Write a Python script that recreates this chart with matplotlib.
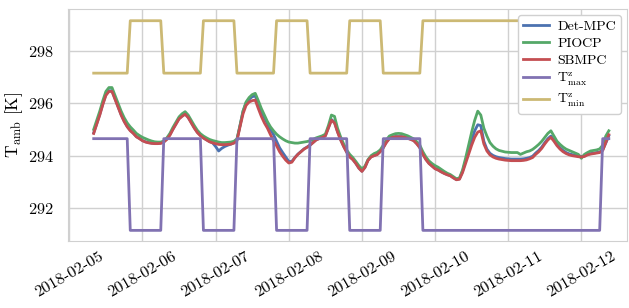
import numpy as np
import pandas as pd
import matplotlib
matplotlib.use("Agg")
import matplotlib.pyplot as plt
import matplotlib.dates as mdates

# hourly samples, 2018-02-05 08:00 -> 2018-02-12 09:00
start = "2018-02-05 08:00"

sbmpc = [
    294.85, 295.20, 295.55, 295.95, 296.30, 296.45, 296.45, 296.15, 295.85, 295.55, 295.30, 295.10, 294.95, 294.85, 294.72, 294.65,
    294.57, 294.52, 294.49, 294.47, 294.46, 294.46, 294.47, 294.52, 294.62, 294.78, 295.00, 295.20, 295.40, 295.50, 295.58, 295.45,
    295.25, 295.05, 294.88, 294.76, 294.67, 294.60, 294.53, 294.49,
    294.46, 294.43, 294.42, 294.42, 294.43, 294.44, 294.48, 294.57, 295.10, 295.60, 295.92, 296.05, 296.10, 296.12, 295.80, 295.50,
    295.25, 295.05, 294.80, 294.57, 294.38, 294.15, 293.98, 293.83,
    293.72, 293.75, 293.92, 294.05, 294.15, 294.25, 294.32, 294.40, 294.50, 294.60, 294.65, 294.70, 294.75, 295.05, 295.35, 295.25,
    294.90, 294.60, 294.35, 294.13, 293.95, 293.85, 293.70, 293.52,
    293.40, 293.55, 293.82, 293.95, 294.00, 294.04, 294.15, 294.30, 294.50, 294.65, 294.70, 294.72, 294.72, 294.72, 294.70, 294.66,
    294.62, 294.57, 294.45, 294.30, 294.05, 293.85, 293.70, 293.60,
    293.50, 293.45, 293.38, 293.32, 293.27, 293.23, 293.15, 293.08, 293.10, 293.35, 293.70, 294.05, 294.40, 294.70, 294.90, 294.95,
    294.45, 294.18, 294.03, 293.95, 293.90, 293.87, 293.85, 293.83,
    293.82, 293.81, 293.81, 293.81, 293.81, 293.82, 293.84, 293.88, 293.93, 294.05, 294.15, 294.28, 294.45, 294.60, 294.70, 294.55,
    294.38, 294.25, 294.15, 294.08, 294.03, 294.00, 293.98, 293.96,
    293.95, 293.97, 294.03, 294.06, 294.08, 294.10, 294.12, 294.20, 294.50, 294.80,
]

det_mpc = [
    294.87, 295.23, 295.58, 295.98, 296.33, 296.48, 296.48, 296.18, 295.87, 295.57, 295.32, 295.12, 294.97, 294.86, 294.73, 294.66,
    294.58, 294.53, 294.50, 294.48, 294.47, 294.47, 294.48, 294.53, 294.64, 294.80, 295.02, 295.22, 295.42, 295.52, 295.60, 295.47,
    295.27, 295.07, 294.90, 294.78, 294.68, 294.61, 294.54, 294.49,
    294.35, 294.18, 294.28, 294.35, 294.40, 294.44, 294.49, 294.60, 295.15, 295.70, 296.02, 296.15, 296.25, 296.28, 296.00, 295.70,
    295.45, 295.22, 295.00, 294.80, 294.55, 294.30, 294.12, 293.95,
    293.78, 293.78, 293.93, 294.06, 294.16, 294.26, 294.33, 294.41, 294.51, 294.61, 294.66, 294.71, 294.76, 295.07, 295.38, 295.28,
    294.92, 294.62, 294.36, 294.14, 293.96, 293.86, 293.71, 293.53,
    293.41, 293.56, 293.83, 293.96, 294.01, 294.05, 294.16, 294.31, 294.51, 294.66, 294.71, 294.73, 294.73, 294.73, 294.71, 294.67,
    294.63, 294.58, 294.46, 294.31, 294.06, 293.86, 293.71, 293.61,
    293.51, 293.46, 293.39, 293.33, 293.28, 293.24, 293.16, 293.09, 293.12, 293.40, 293.80, 294.20, 294.60, 294.95, 295.18, 295.15,
    294.55, 294.25, 294.09, 294.01, 293.96, 293.93, 293.91, 293.89,
    293.88, 293.87, 293.87, 293.87, 293.87, 293.88, 293.90, 293.93, 293.98, 294.10, 294.20, 294.33, 294.50, 294.65, 294.75, 294.60,
    294.43, 294.30, 294.20, 294.12, 294.07, 294.04, 294.01, 293.99,
    293.97, 293.99, 294.05, 294.08, 294.10, 294.12, 294.14, 294.22, 294.48, 294.76,
]

piocp = [
    295.00, 295.35, 295.70, 296.10, 296.45, 296.60, 296.60, 296.30, 296.00, 295.70, 295.45, 295.25, 295.10, 294.98, 294.85, 294.77,
    294.70, 294.65, 294.60, 294.56, 294.53, 294.52, 294.52, 294.56, 294.68, 294.85, 295.08, 295.28, 295.48, 295.60, 295.68, 295.55,
    295.35, 295.15, 294.97, 294.84, 294.75, 294.68, 294.62, 294.58,
    294.55, 294.52, 294.50, 294.50, 294.51, 294.52, 294.55, 294.64, 295.15, 295.70, 296.05, 296.22, 296.33, 296.38, 296.10, 295.80,
    295.55, 295.30, 295.10, 294.95, 294.82, 294.72, 294.64, 294.57,
    294.52, 294.50, 294.48, 294.48, 294.50, 294.52, 294.54, 294.57, 294.62, 294.68, 294.72, 294.76, 294.82, 295.15, 295.55, 295.50,
    295.05, 294.72, 294.45, 294.22, 294.05, 293.93, 293.78, 293.62,
    293.50, 293.60, 293.85, 294.00, 294.08, 294.13, 294.22, 294.40, 294.60, 294.75, 294.80, 294.84, 294.85, 294.84, 294.80, 294.76,
    294.70, 294.64, 294.53, 294.40, 294.15, 293.95, 293.80, 293.70,
    293.62, 293.56, 293.48, 293.40, 293.33, 293.28, 293.20, 293.12, 293.15, 293.45, 293.90, 294.40, 294.90, 295.35, 295.70, 295.55,
    295.05, 294.75, 294.50, 294.36, 294.26, 294.20, 294.17, 294.14,
    294.13, 294.12, 294.12, 294.12, 294.05, 294.10, 294.15, 294.18, 294.24, 294.33, 294.43, 294.55, 294.70, 294.85, 294.95, 294.75,
    294.55, 294.43, 294.33, 294.25, 294.20, 294.15, 294.10, 294.05,
    293.90, 294.05, 294.12, 294.18, 294.20, 294.22, 294.26, 294.40, 294.75, 294.95,
]

# comfort bounds as (value, number of hourly samples)
tmax_levels = [294.65, 291.15, 294.65, 291.15, 294.65, 291.15, 294.65, 291.15, 294.65, 291.15, 294.65]
tmin_levels = [297.15, 299.15, 297.15, 299.15, 297.15, 299.15, 297.15, 299.15, 297.15, 299.15, 297.15]
bound_hours = [12, 11, 13, 11, 13, 11, 13, 11, 13, 59, 3]

t_max = np.repeat(tmax_levels, bound_hours)
t_min = np.repeat(tmin_levels, bound_hours)
times = pd.date_range(start, periods=len(sbmpc), freq="h")

plt.rcParams["font.family"] = "serif"
plt.rcParams["font.serif"] = ["cmr10", "DejaVu Serif"]
plt.rcParams["mathtext.fontset"] = "cm"
plt.rcParams["axes.formatter.use_mathtext"] = True

fig, ax = plt.subplots(figsize=(6.29, 3.08), dpi=100)
fig.subplots_adjust(left=0.108, right=0.997, top=0.971, bottom=0.218)

lw = 2
ax.plot(times, det_mpc, color="#4C72B0", lw=lw, label="Det-MPC")
ax.plot(times, piocp, color="#55A868", lw=lw, label="PIOCP")
ax.plot(times, sbmpc, color="#C44E52", lw=lw, label="SBMPC")
ax.plot(times, t_max, color="#8172B2", lw=lw, label=r"$\mathrm{T^z_{max}}$")
ax.plot(times, t_min, color="#CCB974", lw=lw, label=r"$\mathrm{T^z_{min}}$")

ax.set_xlim(pd.Timestamp("2018-02-04 23:33"), pd.Timestamp("2018-02-12 15:00"))
ax.set_ylim(290.75, 299.6)
ax.set_yticks([292, 294, 296, 298])
ax.xaxis.set_major_locator(mdates.DayLocator())
ax.xaxis.set_major_formatter(mdates.DateFormatter("%Y-%m-%d"))
plt.xticks(rotation=30, fontsize=11.8)
plt.yticks(fontsize=11.8)
ax.set_ylabel(r"$\mathrm{T_{amb}}$ [K]", fontsize=12.5, labelpad=2)
ax.tick_params(axis="x", length=0, pad=6)
ax.tick_params(axis="y", length=0, pad=10)

ax.grid(True, color="#d0d0d0", lw=1)
for s in ax.spines.values():
    s.set_color("#d0d0d0")

ax.legend(loc="upper right", fontsize=10, framealpha=1, edgecolor="#d0d0d0",
          borderaxespad=0.45, borderpad=0.35, handlelength=1.85, handletextpad=0.6,
          labelspacing=0.3)

plt.savefig("out.png", dpi=100)
